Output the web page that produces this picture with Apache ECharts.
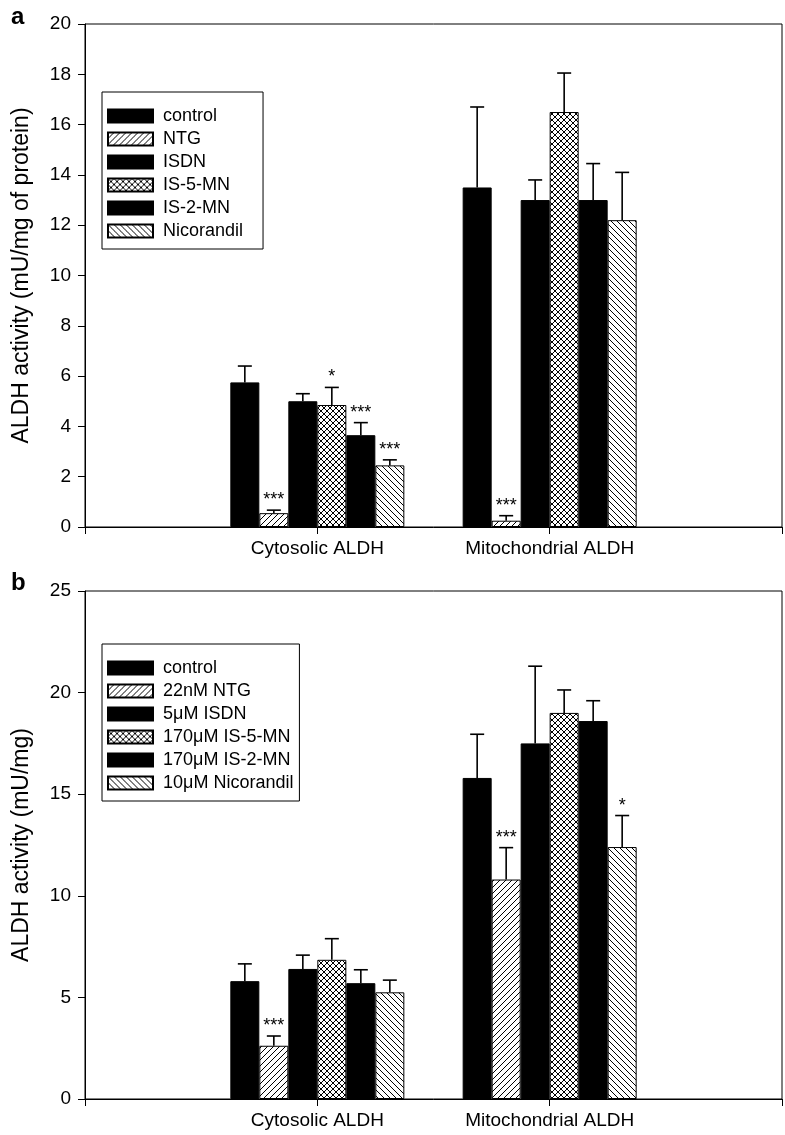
<!DOCTYPE html>
<html><head><meta charset="utf-8">
<script src="https://cdn.jsdelivr.net/npm/echarts@6/dist/echarts.min.js"></script>
<style>html,body{margin:0;padding:0;background:#fff}#c{width:785px;height:1135px}</style>
</head><body><div id="c"></div>
<script>
// ---- data ----
const categories = ['', 'Cytosolic ALDH', 'Mitochondrial ALDH', ''];
const treatmentsA = ['control', 'NTG', 'ISDN', 'IS-5-MN', 'IS-2-MN', 'Nicorandil'];
const treatmentsB = ['control', '22nM NTG', '5μM ISDN', '170μM IS-5-MN', '170μM IS-2-MN', '10μM Nicorandil'];
// per treatment: [cytosolic, mitochondrial]
const meanA = [[5.75, 13.5], [0.55, 0.25], [5.0, 13.0], [4.85, 16.5], [3.65, 13.0], [2.45, 12.2]];
const errA  = [[0.65, 3.2], [0.12, 0.2], [0.3, 0.8], [0.7, 1.55], [0.5, 1.45], [0.22, 1.9]];
const sigA  = [['', ''], ['***', '***'], ['', ''], ['*', ''], ['***', ''], ['***', '']];
const meanB = [[5.8, 15.8], [2.62, 10.8], [6.4, 17.5], [6.85, 19.0], [5.7, 18.6], [5.25, 12.4]];
const errB  = [[0.85, 2.15], [0.48, 1.57], [0.68, 3.8], [1.04, 1.13], [0.66, 1.0], [0.6, 1.55]];
const sigB  = [['', ''], ['***', '***'], ['', ''], ['', ''], ['', ''], ['', '*']];
const yTitleA = 'ALDH activity (mU/mg of protein)';
const yTitleB = 'ALDH activity (mU/mg)';

// ---- styling ----
const FONT = '"Liberation Sans", Arial, Helvetica, sans-serif';
const BW = 29;
function pat(kind) {
  const s = 6;
  const c = document.createElement('canvas'); c.width = s; c.height = s;
  const g = c.getContext('2d');
  g.fillStyle = '#fff'; g.fillRect(0, 0, s, s);
  g.strokeStyle = '#000'; g.lineWidth = 1;
  g.beginPath();
  if (kind === 'fw' || kind === 'x') {
    g.moveTo(-1, s + 1); g.lineTo(s + 1, -1);
    g.moveTo(-1, 1); g.lineTo(1, -1);
    g.moveTo(s - 1, s + 1); g.lineTo(s + 1, s - 1);
  }
  if (kind === 'bw' || kind === 'x') {
    g.moveTo(-1, -1); g.lineTo(s + 1, s + 1);
    g.moveTo(s - 1, -1); g.lineTo(s + 1, 1);
    g.moveTo(-1, s - 1); g.lineTo(1, s + 1);
  }
  g.stroke();
  return { image: c, repeat: 'repeat' };
}
const fills = ['#000', pat('fw'), '#000', pat('x'), '#000', pat('bw')];

function barSeries(p, names, mean) {
  return names.map((n, i) => ({
    type: 'bar', name: n, xAxisIndex: p, yAxisIndex: p,
    data: ['-', mean[i][0], mean[i][1], '-'],
    barWidth: BW, barGap: '0%',
    itemStyle: { color: fills[i], borderColor: '#000', borderWidth: 1 },
    animation: false, silent: true
  }));
}
function errSeries(p, mean, err, sig) {
  const data = [], marks = [];
  mean.forEach((m, i) => m.forEach((v, k) => {
    data.push([k + 1, v, err[i][k], i]);
    marks.push(sig[i][k]);
  }));
  return {
    type: 'custom', xAxisIndex: p, yAxisIndex: p, data, z: 10, silent: true, animation: false,
    renderItem: (params, api) => {
      const x = api.value(0), v = api.value(1), e = api.value(2), i = api.value(3);
      const off = (i - 2.5) * BW;
      const base = api.coord([x, v]);
      const top = api.coord([x, v + e]);
      const cx = base[0] + off;
      const ch = [
        { type: 'line', shape: { x1: cx, y1: base[1], x2: cx, y2: top[1] }, style: { stroke: '#000', lineWidth: 1.6 } },
        { type: 'line', shape: { x1: cx - 7, y1: top[1], x2: cx + 7, y2: top[1] }, style: { stroke: '#000', lineWidth: 1.6 } }
      ];
      const s = marks[params.dataIndex];
      if (s) ch.push({ type: 'text', style: { text: s, x: cx, y: top[1] - 1, align: 'center', verticalAlign: 'bottom', fontSize: 18, fontFamily: FONT, fill: '#000' } });
      return { type: 'group', children: ch };
    }
  };
}
function xAx(p) {
  return {
    type: 'category', gridIndex: p, data: categories, boundaryGap: false,
    axisLine: { lineStyle: { color: '#000', width: 1 } },
    axisTick: { show: true, length: 7, interval: 0, lineStyle: { color: '#000' } },
    axisLabel: { interval: 0, margin: 12, color: '#000', fontSize: 19, fontFamily: FONT },
    splitLine: { show: false }
  };
}
function yAx(p, max, interval, name) {
  return {
    type: 'value', gridIndex: p, min: 0, max, interval, name,
    nameLocation: 'middle', nameGap: 52,
    nameTextStyle: { fontSize: 23, fontFamily: FONT, color: '#000' },
    axisLine: { show: true, lineStyle: { color: '#000', width: 1 } },
    axisTick: { show: true, length: 7, lineStyle: { color: '#000' } },
    axisLabel: { margin: 14, color: '#000', fontSize: 19, fontFamily: FONT },
    splitLine: { show: false }
  };
}
function leg(names, top, padRight) {
  return {
    data: names, orient: 'vertical', left: 102, top,
    icon: 'rect', itemWidth: 45, itemHeight: 13, itemGap: 5,
    padding: [15, padRight, 9, 5],
    borderColor: '#000', borderWidth: 1, selectedMode: false,
    textStyle: { fontSize: 18, fontFamily: FONT, color: '#000', padding: [0, 0, 0, 5] }
  };
}

const chart = echarts.init(document.getElementById('c'), null, { renderer: 'canvas' });
chart.setOption({
  animation: false,
  backgroundColor: '#fff',
  title: [
    { text: 'a', left: 6, top: 0, textStyle: { fontSize: 24, fontWeight: 'bold', fontFamily: FONT, color: '#000' } },
    { text: 'b', left: 6, top: 566, textStyle: { fontSize: 24, fontWeight: 'bold', fontFamily: FONT, color: '#000' } }
  ],
  grid: [
    { left: 85, top: 24, right: 2, height: 503, show: true, borderColor: '#000', borderWidth: 1 },
    { left: 85, top: 591, right: 2, height: 508, show: true, borderColor: '#000', borderWidth: 1 }
  ],
  legend: [leg(treatmentsA, 92, 20), leg(treatmentsB, 644, 6)],
  xAxis: [xAx(0), xAx(1)],
  yAxis: [yAx(0, 20, 2, yTitleA), yAx(1, 25, 5, yTitleB)],
  series: [
    ...barSeries(0, treatmentsA, meanA),
    ...barSeries(1, treatmentsB, meanB),
    errSeries(0, meanA, errA, sigA),
    errSeries(1, meanB, errB, sigB)
  ]
});
</script></body></html>
